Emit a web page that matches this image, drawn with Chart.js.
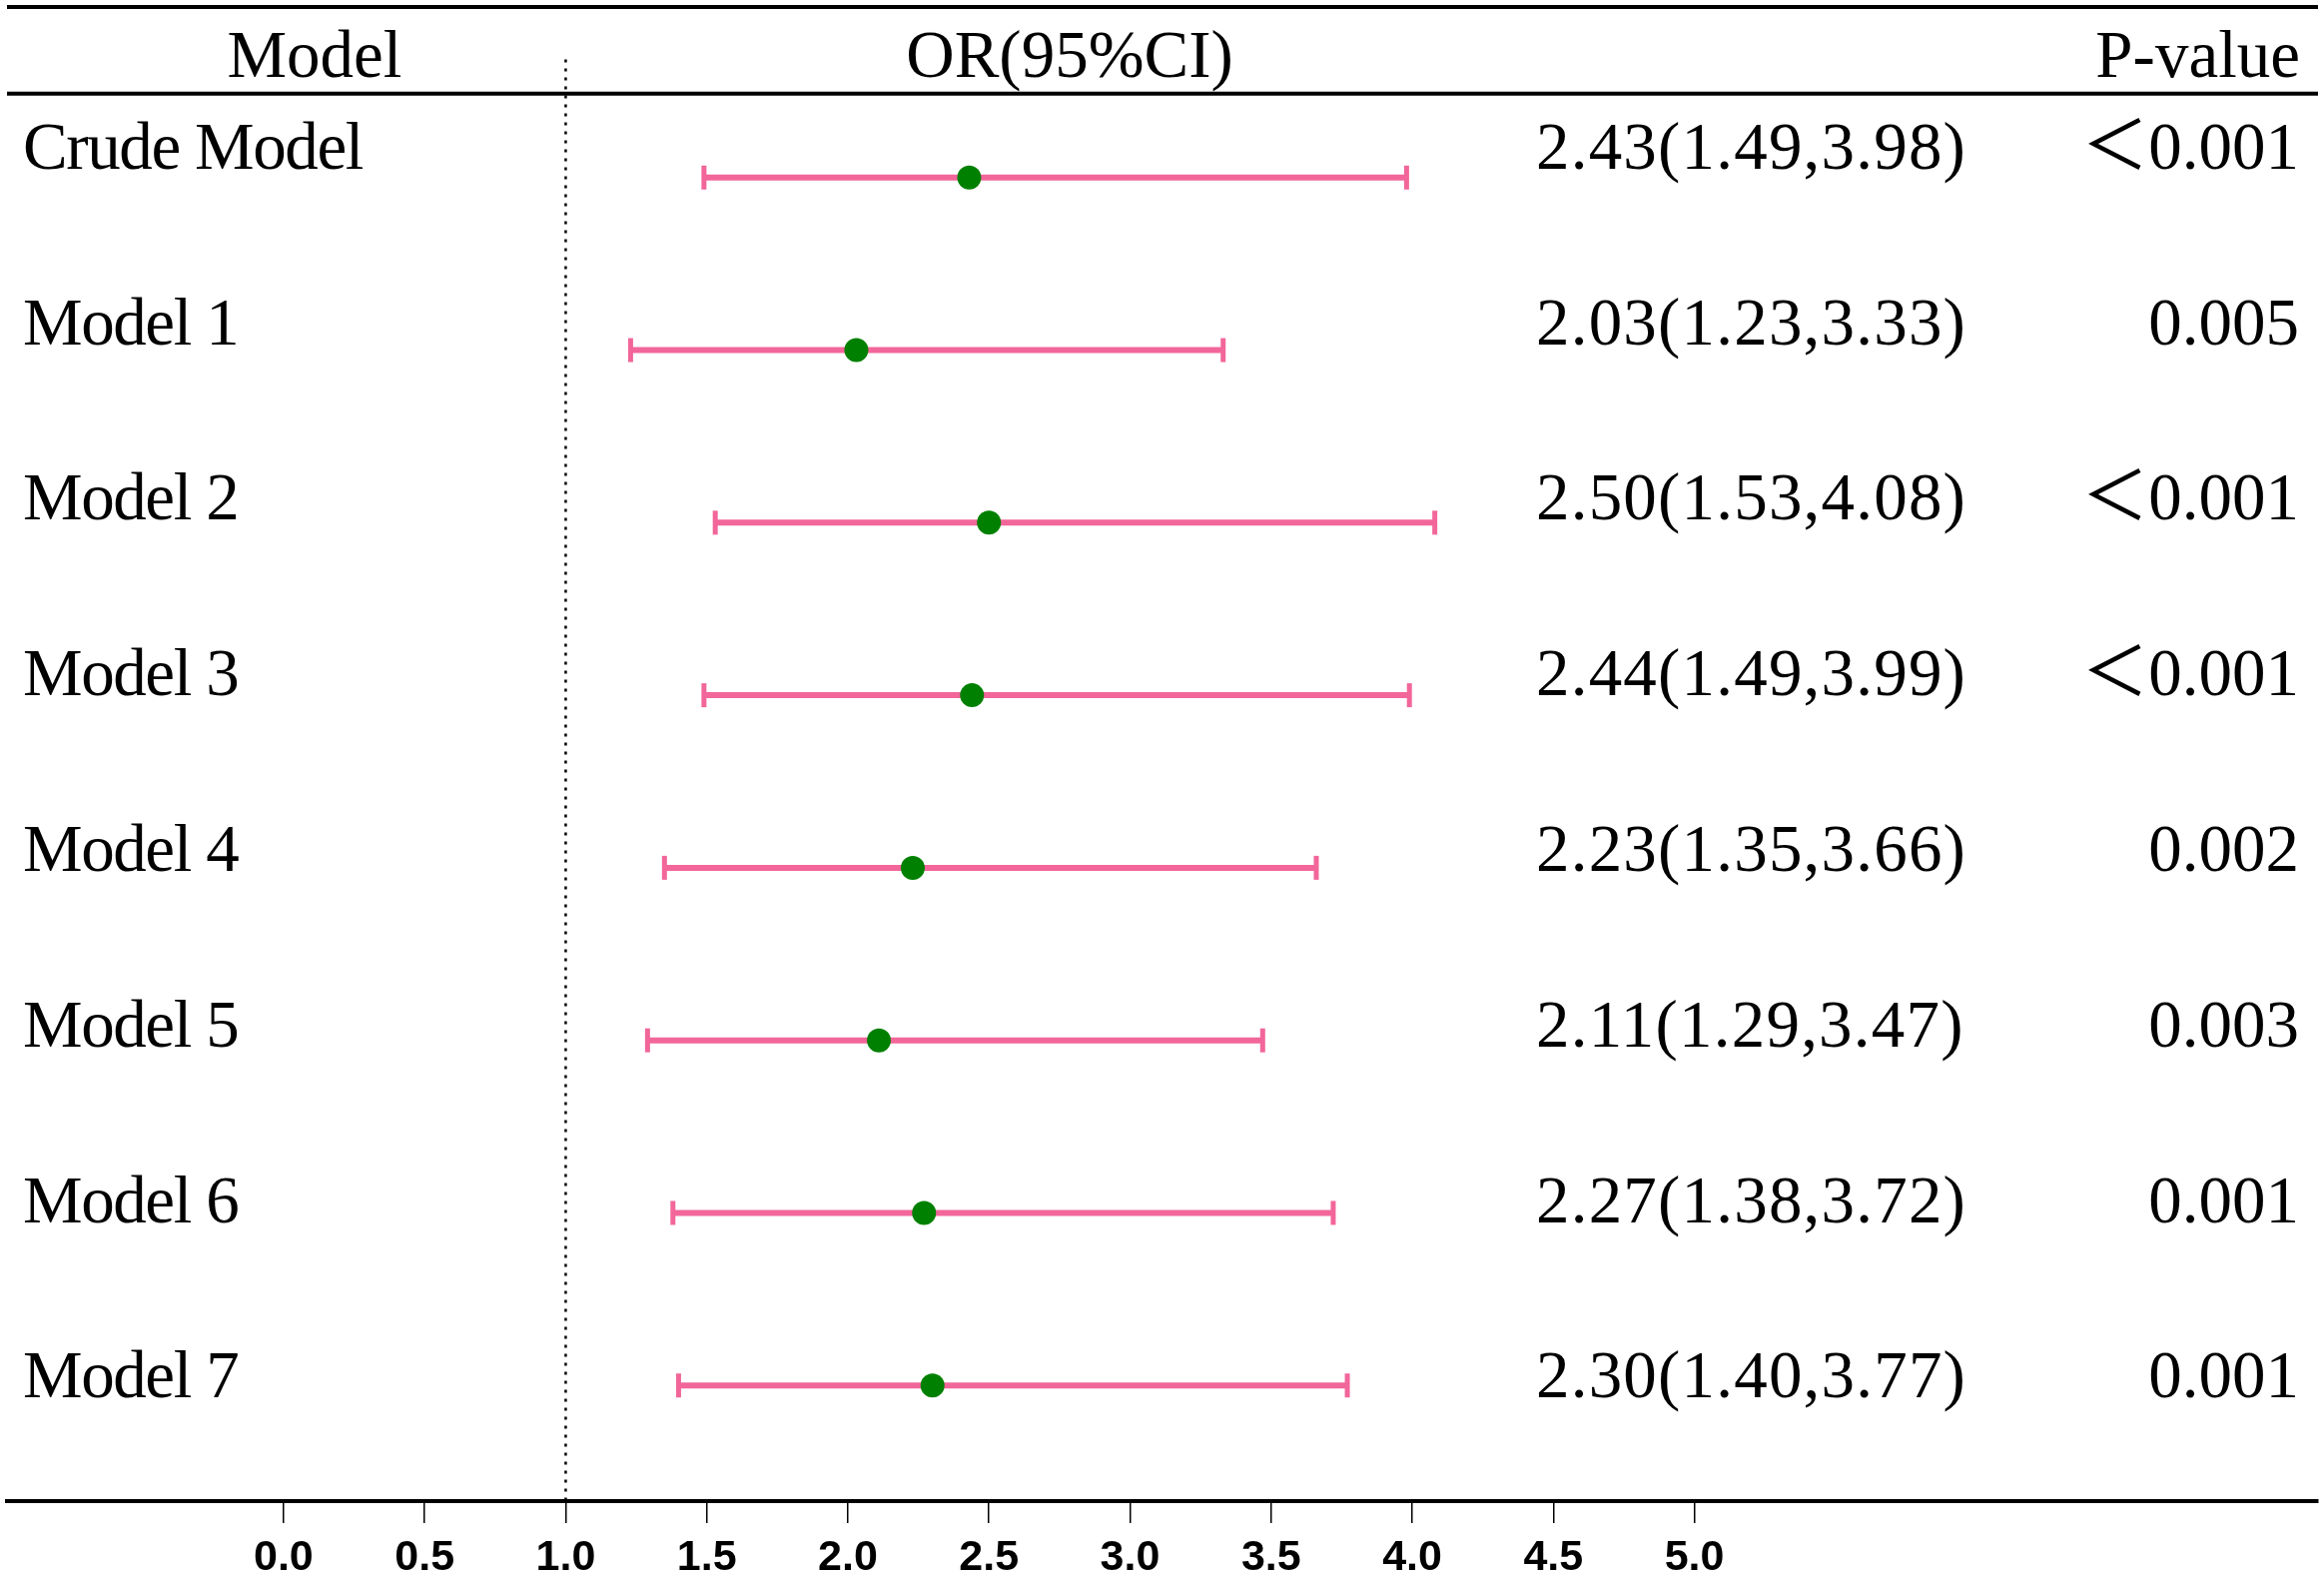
<!DOCTYPE html>
<html>
<head>
<meta charset="utf-8">
<script src="https://cdn.jsdelivr.net/npm/chart.js@4.4.1/dist/chart.umd.min.js"></script>
<style>
  html, body { margin: 0; padding: 0; background: #fff; }
  #wrap { position: relative; width: 2327px; height: 1580px; }
</style>
</head>
<body>
<div id="wrap"><canvas id="c"></canvas></div>
<script>
// ---- data ----
const models = ["Crude Model", "Model 1", "Model 2", "Model 3", "Model 4", "Model 5", "Model 6", "Model 7"];
const orValues = [2.43, 2.03, 2.50, 2.44, 2.23, 2.11, 2.27, 2.30];
const ciLow = [1.49, 1.23, 1.53, 1.49, 1.35, 1.29, 1.38, 1.40];
const ciHigh = [3.98, 3.33, 4.08, 3.99, 3.66, 3.47, 3.72, 3.77];
const pValues = ["＜0.001", "0.005", "＜0.001", "＜0.001", "0.002", "0.003", "0.001", "0.001"];
const tickValues = [0, 0.5, 1, 1.5, 2, 2.5, 3, 3.5, 4, 4.5, 5];
const headers = ["Model", "OR(95%CI)", "P-value"];
const refValue = 1;

// ---- styles / layout ----
const PINK = "#F2669A";
const GREEN = "#008000";
const SERIF = '67px "Liberation Serif", "Times New Roman", "Noto Sans CJK SC", serif';
const TEXT_ROW_START = -0.052;  // text baseline of first row, in row units
const TEXT_ROW_PITCH = 1.0174;  // text rows are slightly more spread than the bars

const datasets = [];
datasets.push({
  type: "scatter",
  data: orValues.map((v, i) => ({ x: v, y: i })),
  pointRadius: 12,
  pointHoverRadius: 12,
  pointBackgroundColor: GREEN,
  pointBorderWidth: 0,
  order: 0
});
models.forEach((m, i) => {
  datasets.push({
    type: "line",
    data: [{ x: ciLow[i], y: i }, { x: ciHigh[i], y: i }],
    borderColor: PINK,
    borderWidth: 6,
    pointStyle: "line",
    rotation: 90,
    pointRadius: 12,
    pointHoverRadius: 12,
    pointBorderColor: PINK,
    pointBorderWidth: 5,
    fill: false,
    order: 1
  });
});

function spaced(ctx, text, x, y, spacing) {
  if ("letterSpacing" in ctx) {
    ctx.letterSpacing = spacing + "px";
    ctx.fillText(text, x, y);
    ctx.letterSpacing = "0px";
  } else {
    ctx.fillText(text, x, y);
  }
}

const tablePlugin = {
  id: "table",
  afterDraw(chart) {
    const ctx = chart.ctx;
    const ca = chart.chartArea;
    const xs = chart.scales.x;
    const ys = chart.scales.y;
    ctx.save();
    // horizontal rules
    ctx.strokeStyle = "#000";
    ctx.lineWidth = 4;
    ctx.beginPath();
    ctx.moveTo(ca.left, ca.top + 2);
    ctx.lineTo(ca.right, ca.top + 2);
    const hy = ys.getPixelForValue(-0.487);
    ctx.moveTo(ca.left, hy);
    ctx.lineTo(ca.right, hy);
    ctx.stroke();

    // dotted reference line
    ctx.lineWidth = 2.5;
    ctx.setLineDash([3, 6]);
    const rx = xs.getPixelForValue(refValue);
    ctx.beginPath();
    ctx.moveTo(rx, ys.getPixelForValue(-0.684));
    ctx.lineTo(rx, ca.bottom);
    ctx.stroke();
    ctx.setLineDash([]);

    // headers
    ctx.fillStyle = "#000";
    ctx.font = SERIF;
    ctx.textBaseline = "alphabetic";
    const headY = ys.getPixelForValue(-0.586);
    ctx.textAlign = "center";
    ctx.fillText(headers[0], 315, headY);
    ctx.fillText(headers[1], 1071, headY);
    ctx.textAlign = "right";
    ctx.fillText(headers[2], 2303, headY);

    // rows
    models.forEach((m, i) => {
      const y = ys.getPixelForValue(TEXT_ROW_START + i * TEXT_ROW_PITCH);
      ctx.textAlign = "left";
      spaced(ctx, m, 23, y, -1.4);
      const txt = orValues[i].toFixed(2) + "(" + ciLow[i].toFixed(2) + "," + ciHigh[i].toFixed(2) + ")";
      spaced(ctx, txt, 1538, y, 1.2);
      ctx.textAlign = "right";
      ctx.fillText(pValues[i], 2302, y);
    });
    ctx.restore();
  }
};

new Chart(document.getElementById("c"), {
  data: { datasets },
  options: {
    responsive: true,
    maintainAspectRatio: false,
    animation: false,
    layout: { autoPadding: false, padding: { left: 7, right: 6, top: 5, bottom: -16 } },
    plugins: { legend: { display: false }, tooltip: { enabled: false } },
    scales: {
      x: {
        type: "linear",
        min: -0.98,
        max: 7.21,
        afterBuildTicks(scale) { scale.ticks = tickValues.map(v => ({ value: v })); },
        grid: { drawOnChartArea: false, drawTicks: true, tickLength: 22, color: "#000", lineWidth: 1.5 },
        border: { display: true, color: "#000", width: 4 },
        ticks: {
          autoSkip: false,
          maxRotation: 0,
          padding: 14,
          color: "#000",
          font: { family: '"Liberation Sans", Arial, sans-serif', size: 43, weight: "bold", lineHeight: 1.0 },
          callback: (v) => Number(v).toFixed(1)
        }
      },
      y: {
        type: "linear",
        reverse: true,
        min: -1,
        max: 7.67,
        display: false
      }
    }
  },
  plugins: [tablePlugin]
});
</script>
</body>
</html>
